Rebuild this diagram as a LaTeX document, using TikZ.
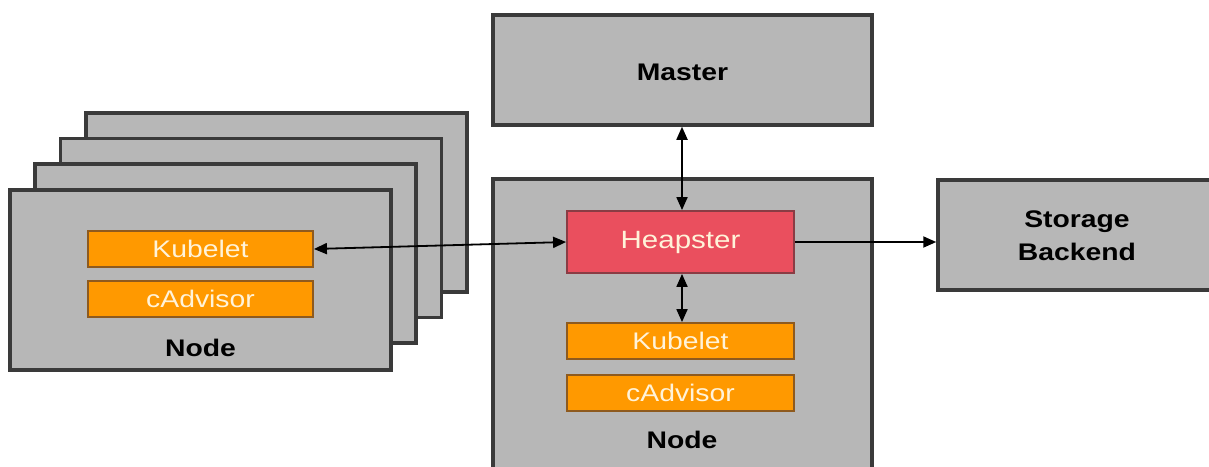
\documentclass[tikz,border=0pt]{standalone}
\usepackage{fontspec}
\setmainfont[FakeStretch=1.18]{Liberation Sans}
\usetikzlibrary{arrows.meta}
\definecolor{boxgray}{HTML}{B7B7B7}
\definecolor{boxline}{HTML}{3A3A3A}
\definecolor{orangef}{HTML}{FF9900}
\definecolor{oranged}{HTML}{8E5A1E}
\definecolor{heapred}{HTML}{EA4F5E}
\definecolor{heapline}{HTML}{8A3C44}
\definecolor{lighttxt}{HTML}{FFF3D9}
\begin{document}
\begin{tikzpicture}[x=1pt,y=-1pt,
  graybox/.style={draw=boxline,fill=boxgray,line width=3.5pt,inner sep=0pt},
  comp/.style={draw=oranged,fill=orangef,line width=1.8pt,minimum width=225pt,minimum height=36pt,inner sep=0pt,text=lighttxt,font=\fontsize{24}{24}\selectfont},
  heapbox/.style={draw=heapline,fill=heapred,line width=1.8pt,minimum width=227pt,minimum height=62pt,inner sep=0pt,text=lighttxt,font=\fontsize{25}{25}\selectfont},
  lbl/.style={font=\fontsize{24}{33}\selectfont\bfseries,text=black,align=center,inner sep=0pt},
  conn/.style={line width=1.8pt,draw=black},
  tip/.style={-{Triangle[length=13pt,width=11pt]}},
  tips/.style={{Triangle[length=13pt,width=11pt]}-{Triangle[length=13pt,width=11pt]}}
]
\useasboundingbox (0,0) rectangle (1209,466);
\clip (0,0) rectangle (1209,466);
% stacked nodes
\node[graybox,minimum width=381pt,minimum height=179pt] (n3) at (276.5,202.5) {};
\node[graybox,minimum width=381pt,minimum height=179pt] (n2) at (251,228) {};
\node[graybox,minimum width=381pt,minimum height=179pt] (n1) at (225.5,253.5) {};
\node[graybox,minimum width=381pt,minimum height=180pt] (n0) at (200.5,280) {};
\node[comp] (kub1) at (200.5,249) {Kubelet};
\node[comp] (cad1) at (200.5,299) {cAdvisor};
\node[lbl] (nodelbl1) at (200.5,348) {Node};
% master
\node[graybox,minimum width=379pt,minimum height=110pt] (master) at (682.5,70) {};
\node[lbl] (masterlbl) at (682.5,72) {Master};
% center node
\node[graybox,minimum width=379pt,minimum height=300pt] (cnode) at (682.5,329) {};
\node[heapbox] (heap) at (680.5,242) {Heapster};
\node[comp,minimum width=227pt] (kub2) at (680.5,341) {Kubelet};
\node[comp,minimum width=227pt] (cad2) at (680.5,393) {cAdvisor};
\node[lbl] (nodelbl2) at (682,440) {Node};
% storage
\node[graybox,minimum width=277pt,minimum height=110pt] (store) at (1076.5,235) {};
\node[lbl] (storelbl) at (1077,236) {Storage\\Backend};
% connectors
\draw[conn,tips] (master.south -| 682,0) -- (heap.north -| 682,0);
\draw[conn,tips] (heap.south -| 682,0) -- (kub2.north -| 682,0);
\draw[conn,tips] (kub1.east) -- (heap.west);
\draw[conn,tip] (heap.east) -- (heap.east -| store.west);
\end{tikzpicture}
\end{document}
